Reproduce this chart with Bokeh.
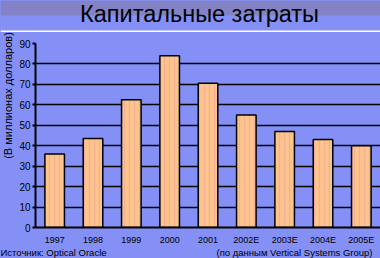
import math
from bokeh.plotting import figure
from bokeh.layouts import column, row
from bokeh.models import FactorRange, Range1d, FixedTicker
from bokeh.core.properties import value
from bokeh.embed import file_html
from bokeh.resources import INLINE

# ---- data ----
years = ["1997", "1998", "1999", "2000", "2001", "2002E", "2003E", "2004E", "2005E"]
spend = [36, 43.5, 62.5, 84, 70.5, 55, 47, 43, 40]
y_ticks = [0, 10, 20, 30, 40, 50, 60, 70, 80, 90]
title_text = "Капитальные затраты"
y_label_text = "(В миллионах долларов)"
source_text = "Источник: Optical Oracle"
credit_text = "(по данным Vertical Systems Group)"

BLUE = "#8490f6"
BAND = "#8282c4"
BAR = "#fdc58c"
FONT = "Liberation Sans"


def strip(w, h, y0, y1):
    f = figure(width=w, height=h, x_range=Range1d(0, w), y_range=Range1d(y1, y0),
               title=None, output_backend="svg", toolbar_location=None,
               x_axis_location=None, y_axis_location=None,
               min_border=0, min_border_left=0, min_border_right=0,
               min_border_top=0, min_border_bottom=0, frame_align=False,
               background_fill_color=BLUE, border_fill_color=BLUE,
               outline_line_color=None)
    f.grid.visible = False
    return f


# ---- header: band, title, white rule ----
header = strip(380, 32, 0, 32)
header.quad(left=[0], right=[380], top=[0], bottom=[15], fill_color=BAND, line_color=None)
header.quad(left=[0], right=[380], top=[30], bottom=[32], fill_color="white", line_color=None)
header.text(x=[199], y=[13], text=[title_text], text_align="center",
            text_baseline="middle", text_font=value(FONT),
            text_font_size="23.5px", text_color="black")

# ---- left strip: y axis title ----
left = strip(16, 215, 32, 247)
left.text(x=[7.5], y=[95], text=[y_label_text], angle=math.pi / 2,
          text_align="center", text_baseline="middle", text_font=value(FONT),
          text_font_size="11px", text_color="black")

# ---- main chart ----
p = figure(width=364, height=215,
           x_range=FactorRange(*years, range_padding=0),
           y_range=Range1d(0, 90), title=None,
           output_backend="svg", toolbar_location=None,
           min_border_left=14, min_border_right=0,
           min_border_top=11, min_border_bottom=18, frame_align=False,
           background_fill_color=BLUE, border_fill_color=BLUE,
           outline_line_color=None)

p.vbar(x=years, top=spend, width=0.51, fill_color=BAR, line_color="black",
       line_width=1.5, hatch_pattern="vertical_line", hatch_color="#f29a9a",
       hatch_alpha=0.55, hatch_scale=5, hatch_weight=1.3)

p.xgrid.grid_line_color = None
p.ygrid.ticker = FixedTicker(ticks=y_ticks)
p.ygrid.grid_line_color = "black"
p.ygrid.grid_line_width = 1.5

ya = p.yaxis[0]
ya.ticker = FixedTicker(ticks=y_ticks)
ya.axis_line_width = 2
ya.axis_line_color = "black"
ya.major_tick_out = 3
ya.major_tick_in = 0
ya.major_tick_line_width = 2
ya.minor_tick_out = 0
ya.minor_tick_in = 0
ya.major_label_standoff = 2
ya.major_label_text_font = FONT
ya.major_label_text_font_size = "10px"
ya.major_label_text_color = "black"

xa = p.xaxis[0]
xa.axis_line_width = 2
xa.axis_line_color = "black"
xa.major_tick_out = 0
xa.major_tick_in = 0
xa.major_label_standoff = 7
xa.major_label_text_font = FONT
xa.major_label_text_font_size = "9px"
xa.major_label_text_color = "black"

# ---- footer: sources ----
footer = strip(380, 11, 247, 258)
footer.text(x=[0], y=[251], text=[source_text], text_align="left",
            text_baseline="middle", text_font=value(FONT),
            text_font_size="9.5px", text_color="black")
footer.text(x=[372], y=[251], text=[credit_text], text_align="right",
            text_baseline="middle", text_font=value(FONT),
            text_font_size="9.5px", text_color="black")

layout = column(header, row(left, p, spacing=0, styles={"background-color": BLUE}),
                footer, spacing=0, styles={"background-color": BLUE})

open("out.html", "w").write(file_html(layout, INLINE))
